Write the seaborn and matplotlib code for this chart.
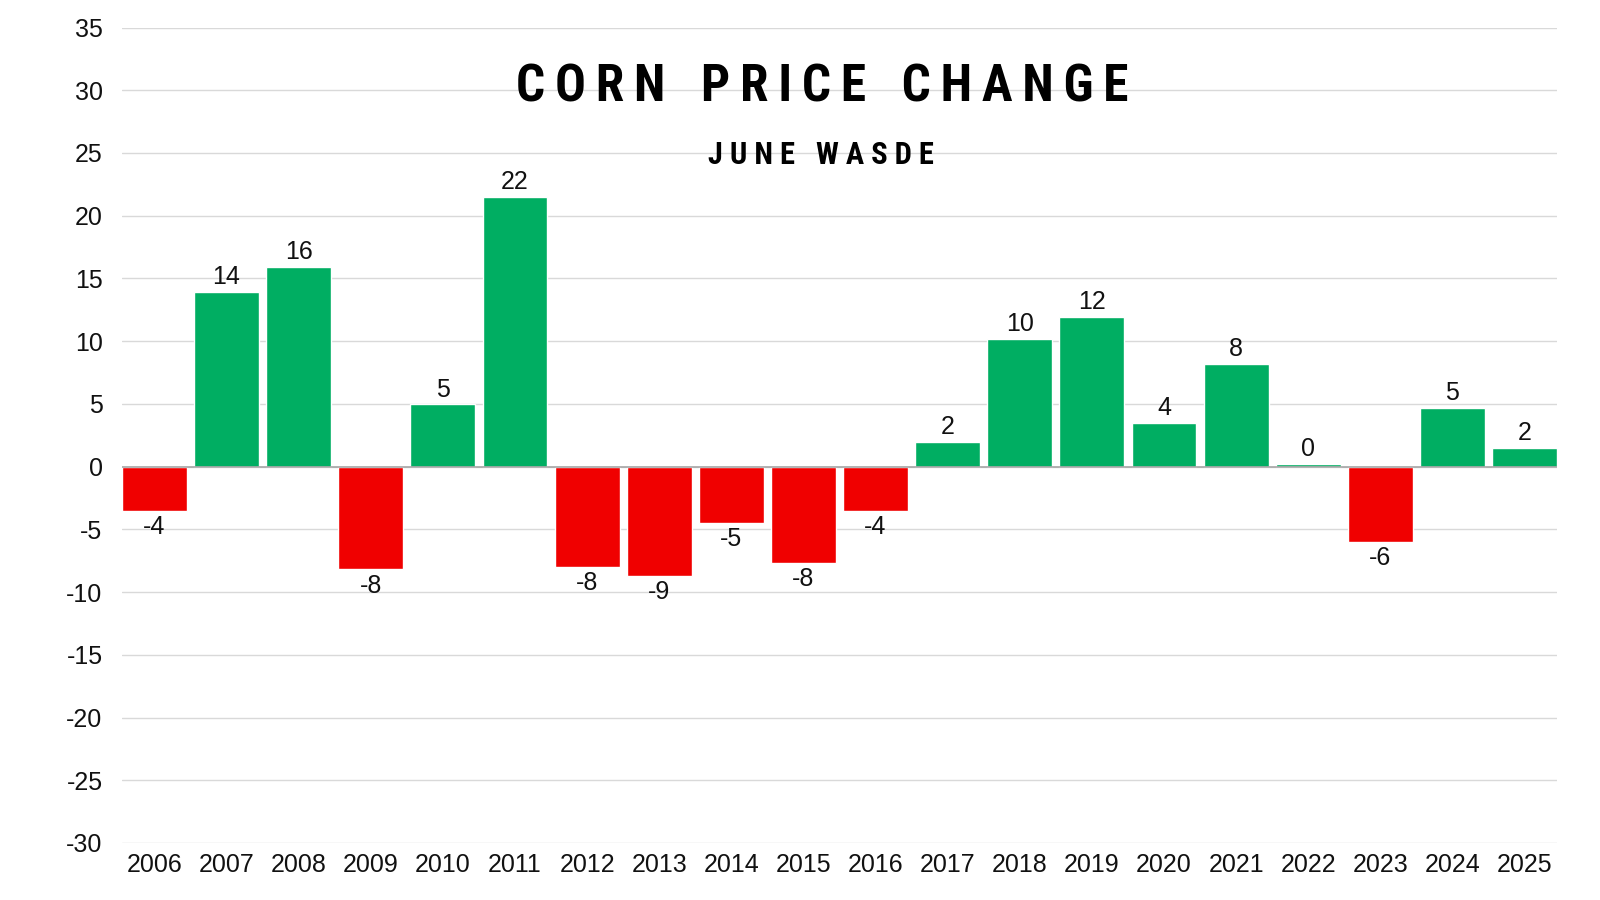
import numpy as np
import pandas as pd
import matplotlib
matplotlib.use("Agg")
import matplotlib.pyplot as plt
from matplotlib import font_manager
import seaborn as sns

# DATI
anni = [str(a) for a in range(2006, 2026)]
variazione = [-3.5, 13.9, 15.95, -8.2, 4.96, 21.5, -7.97, -8.7, -4.5, -7.7,
              -3.5, 1.95, 10.2, 11.96, 3.5, 8.2, 0.2, -6.0, 4.7, 1.5]
etichette = ["-4", "14", "16", "-8", "5", "22", "-8", "-9", "-5", "-8",
             "-4", "2", "10", "12", "4", "8", "0", "-6", "5", "2"]
tick_y = list(range(-30, 36, 5))

titolo = "CORN PRICE CHANGE"
sottotitolo = "JUNE WASDE"

verde = "#00AE62"
rosso = "#F00000"

df = pd.DataFrame({"anno": anni, "valore": variazione, "etichetta": etichette})
df["segno"] = np.where(df["valore"] >= 0, "pos", "neg")

# font stretto per il titolo, se c'è
nomi = {f.name for f in font_manager.fontManager.ttflist}
font_titolo = "DejaVu Sans"
for cand in ["Roboto Condensed", "Liberation Sans Narrow"]:
    if cand in nomi:
        font_titolo = cand
        break


def spazia(testo, sep_lettere, sep_parole):
    parole = testo.split(" ")
    return sep_parole.join(sep_lettere.join(p) for p in parole)


sns.set_theme(style="white")
plt.rcParams["font.family"] = ["Liberation Sans", "DejaVu Sans"]

fig = plt.figure(figsize=(16, 9), dpi=100)
ax = fig.add_axes([122 / 1600, 1 - 843 / 900, (1557 - 122) / 1600, (843 - 27.5) / 900])

sns.barplot(data=df, x="anno", y="valore", hue="segno",
            palette={"pos": verde, "neg": rosso}, width=0.9, saturation=1,
            dodge=False, legend=False, ax=ax, zorder=3)

ax.set_ylim(-30, 35)
ax.set_xlim(-0.45, len(anni) - 0.55)
ax.set_yticks(tick_y)
ax.set_yticklabels([str(t) for t in tick_y])
ax.yaxis.grid(True, color="#d9d9d9", linewidth=1, zorder=0)
ax.axhline(0, color="#a6a6a6", linewidth=1.2, zorder=4)
for s in ax.spines.values():
    s.set_visible(False)
ax.tick_params(axis="both", length=0, labelsize=18, colors="#111111")
ax.tick_params(axis="y", pad=14)
ax.tick_params(axis="x", pad=7)
ax.set_xlabel("")
ax.set_ylabel("")

for i, (v, t) in enumerate(zip(variazione, etichette)):
    if v >= 0:
        ax.annotate(t, (i, v), xytext=(0, 2), textcoords="offset points",
                    ha="center", va="bottom", fontsize=18, color="#111111")
    else:
        ax.annotate(t, (i, v), xytext=(0, -3), textcoords="offset points",
                    ha="center", va="top", fontsize=18, color="#111111")

fig.text(822 / 1600, 1 - 88 / 900, spazia(titolo, "\u2009", "   "),
         ha="center", va="center", fontsize=37, fontweight="bold",
         family=[font_titolo, "DejaVu Sans"], color="black")
fig.text(821 / 1600, 1 - 155 / 900, spazia(sottotitolo, " ", "   "),
         ha="center", va="center", fontsize=22, fontweight="bold",
         family=[font_titolo, "DejaVu Sans"], color="black")

fig.savefig("out.png", dpi=100, facecolor="white")
